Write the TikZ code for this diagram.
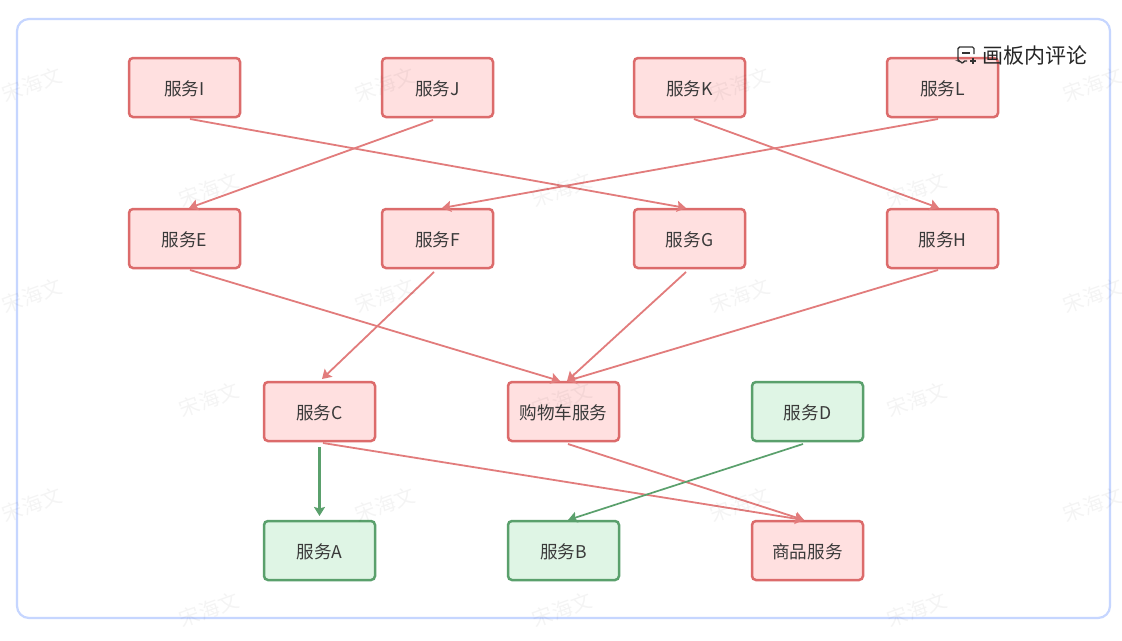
\documentclass[tikz,border=0pt]{standalone}
\usepackage{fontspec}
\setmainfont{Noto Sans CJK SC}
\usetikzlibrary{arrows.meta}
\definecolor{redline}{HTML}{DC6B6B}
\definecolor{redfill}{HTML}{FFE0E0}
\definecolor{redconn}{HTML}{E27C7C}
\definecolor{greenline}{HTML}{5AA06C}
\definecolor{greenfill}{HTML}{DFF5E5}
\definecolor{framecol}{HTML}{C6D6FF}
\definecolor{labelcol}{HTML}{3A3A3A}
\tikzset{
  svc/.style={rectangle,rounded corners=4pt,line width=2.5pt,minimum width=111pt,minimum height=59pt,
    inner sep=0pt,outer sep=0pt,text=labelcol,text height=15.5pt,text depth=0pt,font=\fontsize{17.6}{19}\selectfont},
  redbox/.style={svc,draw=redline,fill=redfill},
  greenbox/.style={svc,draw=greenline,fill=greenfill},
  redarrow/.style={draw=redconn,line width=1.8pt,-{Stealth[length=9pt,width=11pt,inset=1.5pt]}},
  greenarrow/.style={draw=greenline,line width=1.7pt,-{Stealth[length=9pt,width=11pt,inset=1.5pt]}},
  mark wm/.style={rotate=20,text=black,opacity=0.045,font=\fontsize{20.5}{22}\selectfont,inner sep=0pt},
}
\begin{document}
\begin{tikzpicture}[x=1pt,y=-1pt]
\useasboundingbox (0,0) rectangle (1122,640);
\fill[white] (0,0) rectangle (1122,640);
\draw[framecol,line width=2.2pt,rounded corners=12pt] (17,19) rectangle (1110,618);
% services
\node[redbox] (I) at (184.5,87.5) {服务I};
\node[redbox] (J) at (437.5,87.5) {服务J};
\node[redbox] (K) at (689.5,87.5) {服务K};
\node[redbox] (L) at (942.5,87.5) {服务L};
\node[redbox] (E) at (184.5,238.5) {服务E};
\node[redbox] (F) at (437.5,238.5) {服务F};
\node[redbox] (G) at (689.5,238.5) {服务G};
\node[redbox] (H) at (942.5,238.5) {服务H};
\node[redbox] (C) at (319.5,411.5) {服务C};
\node[redbox] (cart) at (563.5,411.5) {购物车服务};
\node[greenbox] (D) at (807.5,411.5) {服务D};
\node[greenbox] (A) at (319.5,550.5) {服务A};
\node[greenbox] (B) at (563.5,550.5) {服务B};
\node[redbox] (goods) at (807.5,550.5) {商品服务};
% connectors
\draw[redarrow] ([xshift=5.5pt,yshift=-2pt]I.south) -- ([xshift=-3.5pt,yshift=1pt]G.north);
\draw[redarrow] ([xshift=-4.5pt,yshift=-3pt]J.south) -- ([xshift=4.5pt,yshift=1pt]E.north);
\draw[redarrow] ([xshift=4.5pt,yshift=-2pt]K.south) -- ([xshift=-3.5pt,yshift=1pt]H.north);
\draw[redarrow] ([xshift=-4.5pt,yshift=-2pt]L.south) -- ([xshift=4.5pt,yshift=1pt]F.north);
\draw[redarrow] ([xshift=5.5pt,yshift=-2pt]E.south) -- ([xshift=-3.5pt,yshift=1pt]cart.north);
\draw[redarrow] ([xshift=-3.5pt,yshift=-4pt]F.south) -- ([xshift=2.5pt,yshift=3pt]C.north);
\draw[redarrow] ([xshift=-3.5pt,yshift=-4pt]G.south) -- ([xshift=3.5pt,yshift=1pt]cart.north);
\draw[redarrow] ([xshift=-4.5pt,yshift=-2pt]H.south) -- ([xshift=3.5pt,yshift=1pt]cart.north);
\draw[redarrow] ([xshift=3.5pt,yshift=-2pt]C.south) -- ([xshift=-3.5pt,yshift=1pt]goods.north);
\draw[redarrow] ([xshift=4.5pt,yshift=-3pt]cart.south) -- ([xshift=-3.5pt,yshift=1pt]goods.north);
\draw[greenarrow] ([xshift=-4.5pt,yshift=-3pt]D.south) -- ([xshift=4.5pt,yshift=1pt]B.north);
\draw[greenarrow,line width=2.05pt] ([yshift=-6pt]C.south) -- ([yshift=5pt]A.north);
% comment button
\node[anchor=west,inner sep=0pt,text=black!85,font=\fontsize{21}{23}\selectfont] (btn) at (982.5,56) {画板内评论};
\draw[black!80,line width=1.4pt,rounded corners=1.5pt] (967,61) -- (963,61) -- (963,64) -- (960,61) -- (958,61) -- (958,47) -- (974,47) -- (974,54);
\draw[black!80,line width=1.2pt] (962,53) -- (970,53) (970,61) -- (976,61) (973,58) -- (973,64);
% watermarks
\foreach \n/\wx/\wy in {a/32/85,b/385/85,c/740/85,d/1093/85,
  e/209/190,f/562/190,g/917/190,
  h/32/296,i/385/296,j/740/296,k/1093/296,
  l/209/400,m/562/400,n/917/400,
  o/32/505,p/385/505,q/740/505,r/1093/505,
  s/209/610,t/562/610,u/917/610}
  \node[mark wm] (wm\n) at (\wx,\wy) {宋海文};
\end{tikzpicture}
\end{document}
